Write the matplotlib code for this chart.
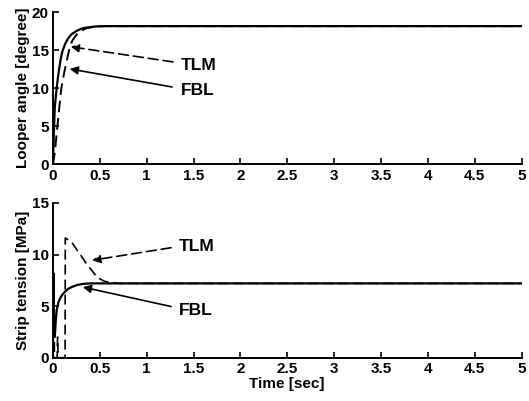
import numpy as np
import matplotlib
matplotlib.use('Agg')
import matplotlib.pyplot as plt

plt.rcParams['font.family'] = ['Liberation Sans', 'DejaVu Sans']

# Looper angle [degree]
t_fbl_ang = [0.0, 0.01, 0.02, 0.04, 0.06, 0.08, 0.10, 0.13, 0.16, 0.20, 0.25, 0.30, 0.35, 0.45, 0.55, 5.0]
fbl_ang = [0.0, 4.0, 7.5, 10.0, 12.0, 13.6, 14.8, 15.8, 16.5, 17.1, 17.5, 17.8, 17.95, 18.1, 18.15, 18.15]
t_tlm_ang = [0.0, 0.02, 0.04, 0.06, 0.09, 0.12, 0.14, 0.16, 0.18, 0.21, 0.25, 0.30, 0.35, 0.45, 0.55, 5.0]
tlm_ang = [0.0, 1.5, 4.0, 6.5, 10.0, 12.0, 13.2, 14.3, 15.4, 16.3, 17.0, 17.5, 17.85, 18.1, 18.15, 18.15]

# Strip tension [MPa]
t_fbl_ten = [0.0, 0.005, 0.012, 0.02, 0.03, 0.04, 0.06, 0.08, 0.10, 0.13, 0.16, 0.20, 0.26, 0.32, 0.40, 5.0]
fbl_ten = [0.0, 8.2, 3.0, 2.0, 3.5, 4.6, 5.4, 5.8, 6.1, 6.4, 6.65, 6.85, 7.05, 7.15, 7.2, 7.2]
t_tlm_ten = [0.0, 0.004, 0.012, 0.016, 0.045, 0.05, 0.055, 0.13, 0.132, 0.2, 0.26, 0.30, 0.35, 0.42, 0.47, 0.55, 0.7, 5.0]
tlm_ten = [0.0, 8.0, 8.0, 0.0, 0.0, 2.0, 0.0, 0.0, 11.6, 11.2, 10.4, 9.9, 9.2, 8.4, 7.8, 7.4, 7.2, 7.2]

x_ticks = [0, 0.5, 1, 1.5, 2, 2.5, 3, 3.5, 4, 4.5, 5]
x_ticklabels = ['0', '0.5', '1', '1.5', '2', '2.5', '3', '3.5', '4', '4.5', '5']

fig = plt.figure(figsize=(5.29, 4.01), dpi=100)
ax1 = fig.add_axes([0.100, 0.590, 0.886, 0.380])
ax2 = fig.add_axes([0.100, 0.108, 0.886, 0.386])


def style(ax, ylim, yticks):
    ax.set_xlim(0, 5)
    ax.set_ylim(*ylim)
    ax.set_xticks(x_ticks)
    ax.set_xticklabels(x_ticklabels)
    ax.set_yticks(yticks)
    for s in ['top', 'right']:
        ax.spines[s].set_visible(False)
    for s in ['left', 'bottom']:
        ax.spines[s].set_linewidth(1.4)
    ax.tick_params(direction='in', length=4, width=1.2, labelsize=11, pad=3)
    for lab in ax.get_xticklabels() + ax.get_yticklabels():
        lab.set_fontweight('bold')


# top panel
ax1.plot(t_fbl_ang, fbl_ang, 'k-', lw=1.6)
ax1.plot(t_tlm_ang, tlm_ang, 'k--', lw=1.4, dashes=(6, 3))
style(ax1, (0, 20), [0, 5, 10, 15, 20])
ax1.set_ylabel('Looper angle [degree]', fontsize=11, fontweight='bold', labelpad=1)
ax1.annotate('', xy=(0.16, 15.5), xytext=(1.31, 13.4),
             arrowprops=dict(arrowstyle='-|>', color='k', lw=1.2, ls=(0, (6, 3)),
                             mutation_scale=12))
ax1.text(1.36, 13.0, 'TLM', fontsize=12.5, fontweight='bold', va='center')
ax1.annotate('', xy=(0.15, 12.6), xytext=(1.30, 10.1),
             arrowprops=dict(arrowstyle='-|>', color='k', lw=1.2, mutation_scale=12))
ax1.text(1.36, 9.7, 'FBL', fontsize=12.5, fontweight='bold', va='center')

# bottom panel
ax2.plot(t_fbl_ten, fbl_ten, 'k-', lw=1.6)
ax2.plot(t_tlm_ten, tlm_ten, 'k--', lw=1.2, dashes=(6, 3))
style(ax2, (0, 15), [0, 5, 10, 15])
ax2.set_ylabel('Strip tension [MPa]', fontsize=11, fontweight='bold', labelpad=1)
ax2.set_xlabel('Time [sec]', fontsize=11, fontweight='bold', labelpad=1)
ax2.annotate('', xy=(0.39, 9.4), xytext=(1.29, 10.7),
             arrowprops=dict(arrowstyle='-|>', color='k', lw=1.2, ls=(0, (6, 3)),
                             mutation_scale=12))
ax2.text(1.34, 10.8, 'TLM', fontsize=12.5, fontweight='bold', va='center')
ax2.annotate('', xy=(0.29, 6.9), xytext=(1.29, 4.9),
             arrowprops=dict(arrowstyle='-|>', color='k', lw=1.2, mutation_scale=12))
ax2.text(1.34, 4.6, 'FBL', fontsize=12.5, fontweight='bold', va='center')

plt.savefig('out.png', dpi=100)
plt.close()
